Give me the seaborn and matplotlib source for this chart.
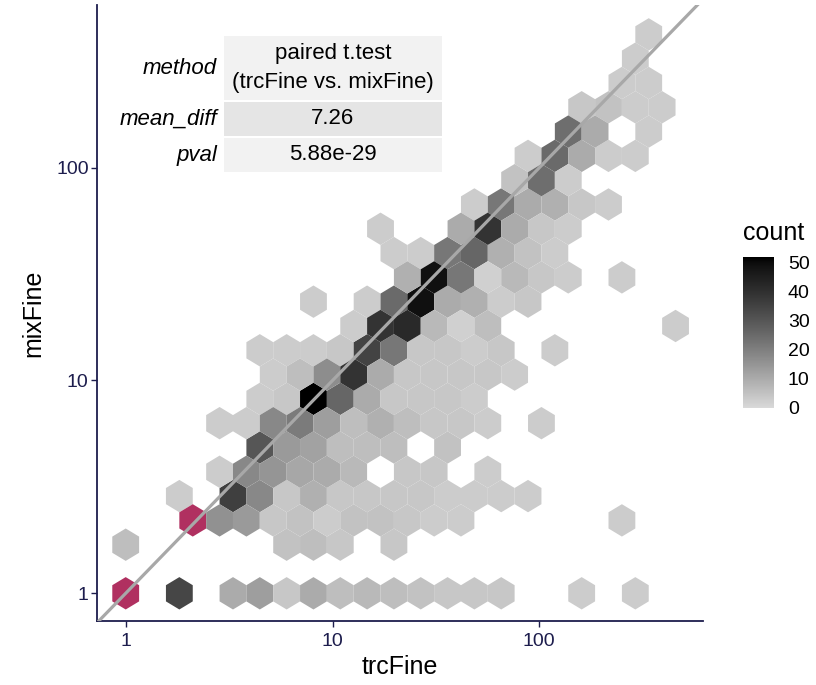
import numpy as np
import matplotlib
matplotlib.use("Agg")
import matplotlib.pyplot as plt
from matplotlib.colors import ListedColormap
from matplotlib.patches import Rectangle
import seaborn as sns

# ---- binned counts: one list per mixFine level (hexagon rows) ----
mix_levels = [1.000, 1.692, 2.201, 2.863, 3.724, 4.844, 6.301, 8.197, 10.66, 13.87,
              18.04, 23.47, 30.52, 39.71, 51.64, 67.18, 87.39, 113.7, 147.8, 192.3,
              250.1, 325.4, 423.3]

trc_by_level = [
    [1.000, 1.817, 3.302, 4.451, 6.000, 8.089, 10.90, 14.70, 19.82, 26.72, 36.02, 48.56, 65.46, 160.3, 291.3],
    [1.000, 6.000, 8.089, 10.90, 19.82],
    [2.110, 2.844, 3.834, 5.168, 6.967, 9.392, 12.66, 17.07, 23.01, 31.02, 41.82, 250.9],
    [1.817, 3.302, 4.451, 6.000, 8.089, 10.90, 14.70, 19.82, 26.72, 36.02, 48.56, 65.46, 88.24],
    [2.844, 3.834, 5.168, 6.967, 9.392, 12.66, 23.01, 31.02, 56.38],
    [4.451, 6.000, 8.089, 10.90, 14.70, 19.82, 36.02],
    [2.844, 3.834, 5.168, 6.967, 9.392, 12.66, 17.07, 23.01, 31.02, 41.82, 56.38, 102.4],
    [4.451, 6.000, 8.089, 10.90, 14.70, 19.82, 26.72, 36.02, 48.56],
    [5.168, 6.967, 9.392, 12.66, 17.07, 23.01, 31.02, 41.82, 56.38, 76.00],
    [4.451, 6.000, 8.089, 10.90, 14.70, 19.82, 26.72, 36.02, 48.56, 65.46, 118.9],
    [12.66, 17.07, 23.01, 31.02, 41.82, 56.38, 455.9],
    [8.089, 14.70, 19.82, 26.72, 36.02, 48.56, 65.46, 88.24],
    [23.01, 31.02, 41.82, 56.38, 76.00, 102.4, 138.1, 250.9],
    [19.82, 26.72, 36.02, 48.56, 65.46, 88.24, 118.9],
    [17.07, 41.82, 56.38, 76.00, 102.4, 138.1],
    [48.56, 65.46, 88.24, 118.9, 160.3, 216.1],
    [76.00, 102.4, 138.1],
    [88.24, 118.9, 160.3, 216.1, 291.3],
    [138.1, 186.1, 338.2],
    [160.3, 216.1, 291.3, 392.6],
    [250.9, 338.2],
    [291.3],
    [338.2],
]

count_by_level = [
    [70, 34, 10, 13, 4, 10, 6, 7, 6, 5, 4, 4, 4, 3, 3],
    [6, 5, 6, 4, 4],
    [60, 16, 14, 4, 5, 3, 5, 5, 4, 3, 3, 3],
    [3, 36, 18, 4, 9, 4, 4, 4, 4, 3, 3, 3, 3],
    [3, 18, 15, 11, 10, 7, 4, 4, 3],
    [30, 14, 12, 6, 6, 6, 5],
    [3, 3, 18, 21, 13, 6, 9, 6, 4, 4, 3, 3],
    [3, 4, 52, 26, 10, 4, 4, 4, 3],
    [3, 6, 17, 39, 10, 4, 4, 4, 4, 3],
    [3, 3, 3, 4, 35, 22, 4, 4, 3, 4, 3],
    [3, 39, 42, 7, 2, 6, 3],
    [3, 3, 25, 49, 10, 9, 3, 4],
    [9, 49, 22, 2, 7, 4, 3, 3],
    [3, 3, 22, 26, 9, 5, 3],
    [3, 10, 39, 10, 4, 3],
    [3, 22, 10, 9, 4, 3],
    [5, 24, 3],
    [3, 25, 10, 3, 3],
    [24, 10, 3],
    [4, 5, 3, 3],
    [3, 3],
    [3],
    [3],
]

table_heads = ["method", "mean_diff", "pval"]
table_values = ["paired t.test\n(trcFine vs. mixFine)", "7.26", "5.88e-29"]

count_ticks = [0, 10, 20, 30, 40, 50]
axis_ticks = [1, 10, 100]

# flatten rows into cell records
trc_fine = np.concatenate([np.asarray(t, float) for t in trc_by_level])
mix_fine = np.concatenate([np.full(len(t), m) for t, m in zip(trc_by_level, mix_levels)])
n_cells = np.concatenate([np.asarray(c, float) for c in count_by_level])

# ---- style ----
sns.set_theme(style="white")
plt.rcParams["font.family"] = ["Liberation Sans", "DejaVu Sans"]
NAVY = "#1d1d4d"

W, H = 816, 685
fig = plt.figure(figsize=(W / 100, H / 100), dpi=100)


def fx(x):
    return x / W


def fy(y):
    return 1 - y / H


ax = fig.add_axes([fx(97), fy(621), fx(703) - fx(97), fy(5) - fy(621)])


def grey_lab_cmap(low=217, n=256):
    """Light grey to black, interpolated linearly in CIE lightness."""
    g = low / 255
    Y0 = ((g + 0.055) / 1.055) ** 2.4
    L0 = 116 * Y0 ** (1 / 3) - 16
    L = np.linspace(L0, 0, n)
    Y = np.where(L > 8, ((L + 16) / 116) ** 3, L / 903.3)
    s = np.where(Y <= 0.0031308, 12.92 * Y, 1.055 * np.power(Y, 1 / 2.4) - 0.055)
    cm = ListedColormap(np.stack([s, s, s], axis=1))
    cm.set_over("#B03060")
    return cm


cmap = grey_lab_cmap()

# hexagon grid in log10 units
SX, SY = 0.1297, 0.2284
NX, NY = 21, 12
hb = ax.hexbin(trc_fine, mix_fine, C=n_cells, reduce_C_function=np.sum,
               gridsize=(NX, NY), extent=(0, NX * SX, 0, NY * SY),
               xscale="log", yscale="log", cmap=cmap, vmin=0, vmax=52,
               linewidths=0, edgecolors="face", zorder=2)

# identity line
sns.lineplot(x=[0.3, 3000], y=[0.3, 3000], ax=ax, color="#a8a8a8", lw=2.3, zorder=3)

ax.set_xscale("log")
ax.set_yscale("log")
ax.set_xlim(10 ** -0.1388, 10 ** 2.7916)
ax.set_ylim(10 ** -0.1302, 10 ** 2.7646)
ax.set_xticks(axis_ticks)
ax.set_xticklabels([str(t) for t in axis_ticks])
ax.set_yticks(axis_ticks)
ax.set_yticklabels([str(t) for t in axis_ticks])
ax.minorticks_off()
ax.tick_params(axis="both", which="major", direction="out", length=4, width=1,
               color=NAVY, labelcolor=NAVY, labelsize=14)
ax.tick_params(axis="x", bottom=True, pad=5)
ax.tick_params(axis="y", left=True, pad=2)
for side in ["top", "right"]:
    ax.spines[side].set_visible(False)
for side in ["left", "bottom"]:
    ax.spines[side].set_color(NAVY)
    ax.spines[side].set_linewidth(1.3)
ax.set_xlabel("")
ax.set_ylabel("")
ax.grid(False)

fig.text(fx(400), fy(667), "trcFine", ha="center", va="center", fontsize=18, color="black")
fig.text(fx(33), fy(313), "mixFine", ha="center", va="center", rotation=90, fontsize=18, color="black")

# ---- colour bar ----
cax = fig.add_axes([fx(743), fy(408), fx(774) - fx(743), fy(257) - fy(408)])
cb = fig.colorbar(hb, cax=cax)
cb.outline.set_visible(False)
cb.set_ticks(count_ticks)
cax.tick_params(axis="y", direction="in", length=6, width=1, color="white",
                left=True, right=True, labelleft=False, labelright=True,
                labelsize=14, labelcolor="black", pad=10)
fig.text(fx(743), fy(233), "count", ha="left", va="center", fontsize=18, color="black")

# ---- summary table ----
row_spans = [(36, 100), (102, 136), (138, 172)]
row_fills = ["#F2F2F2", "#E5E5E5", "#F2F2F2"]
for (top, bot), fill, head, val in zip(row_spans, row_fills, table_heads, table_values):
    fig.patches.append(Rectangle((fx(224), fy(bot)), fx(442) - fx(224), fy(top) - fy(bot),
                                 transform=fig.transFigure, facecolor=fill, edgecolor="none",
                                 zorder=5))
    yc = fy((top + bot) / 2)
    fig.text(fx(217), yc, head, ha="right", va="center", fontsize=16,
             style="italic", color="black", zorder=6)
    fig.text(fx(333), yc, val, ha="center", va="center", fontsize=16,
             color="black", linespacing=1.45, zorder=6)

fig.savefig("out.png", dpi=100)
